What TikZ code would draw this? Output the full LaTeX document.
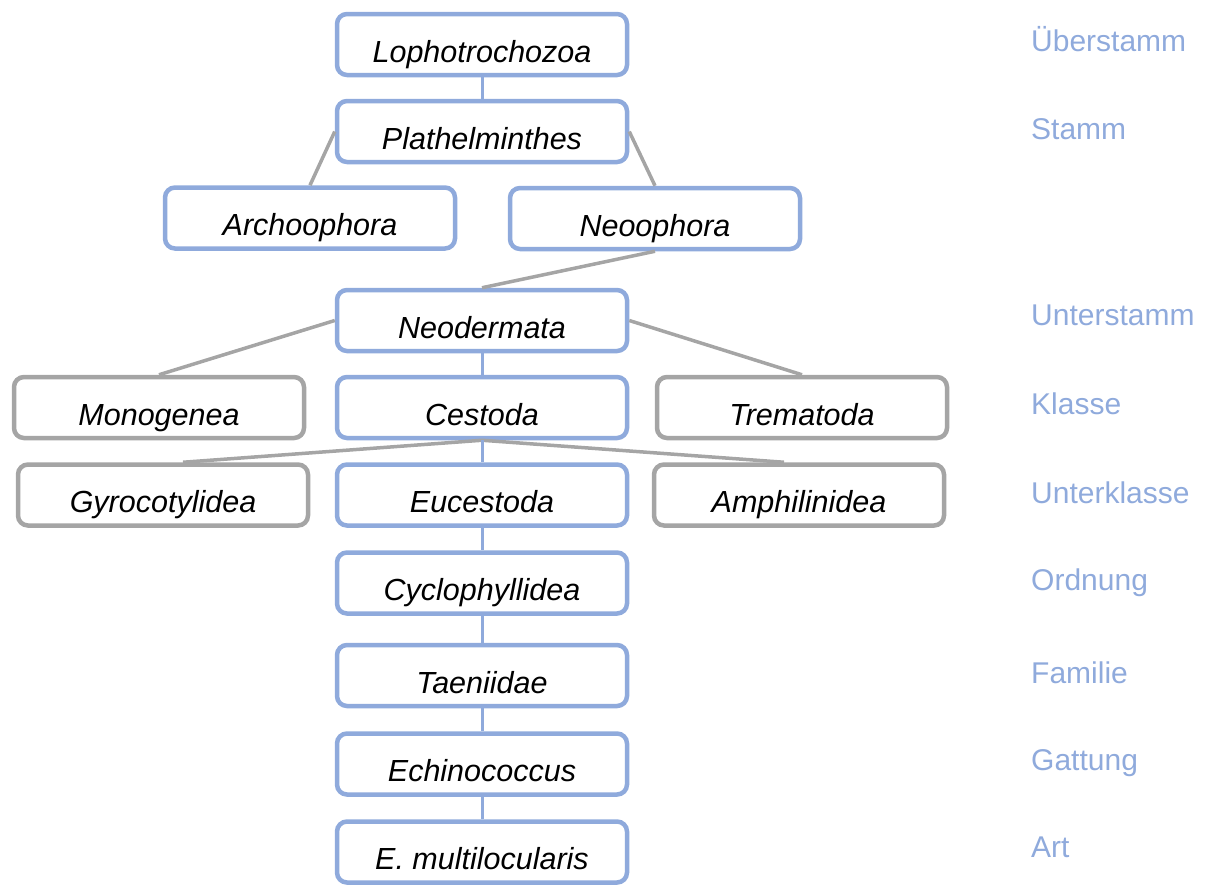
\documentclass[tikz,border=0pt]{standalone}
\usepackage{fontspec}
\setmainfont{Liberation Sans}
\definecolor{bl}{HTML}{8FAADC}
\definecolor{gr}{HTML}{A5A5A5}
\tikzset{
 box/.style={draw=bl, line width=4.5pt, rounded corners=10pt, fill=white, minimum width=290pt, minimum height=61pt, inner sep=0pt, text height=35pt, text depth=0pt, font=\fontsize{30.5}{36}\selectfont\itshape},
 gbox/.style={box, draw=gr},
 lvl/.style={anchor=base west, text=bl, font=\fontsize{30}{36}\selectfont, inner sep=0pt},
 blink/.style={draw=bl, line width=3pt},
 glink/.style={draw=gr, line width=3.5pt},
}
\begin{document}
\begin{tikzpicture}[x=1pt,y=-1pt]
\useasboundingbox (0,0) rectangle (1208,884);
\node[box] (lopho) at (482,44.5) {Lophotrochozoa};
\node[box] (plath) at (482,131.5) {Plathelminthes};
\node[box] (arch) at (310,218) {Archoophora};
\node[box] (neoo) at (655,218.5) {Neoophora};
\node[box] (neod) at (482,320.5) {Neodermata};
\node[gbox] (mono) at (159,407.5) {Monogenea};
\node[box] (cest) at (482,407.5) {Cestoda};
\node[gbox] (trem) at (802,407.5) {Trematoda};
\node[gbox] (gyro) at (163,495) {Gyrocotylidea};
\node[box] (euce) at (482,495) {Eucestoda};
\node[gbox] (amph) at (799,495) {Amphilinidea};
\node[box] (cycl) at (482,583) {Cyclophyllidea};
\node[box] (taen) at (482,675.5) {Taeniidae};
\node[box] (echi) at (482,764) {Echinococcus};
\node[box] (emul) at (482,852) {E. multilocularis};

\draw[blink] (lopho.south) -- (plath.north);
\draw[glink] (plath.west) -- (arch.north);
\draw[glink] (plath.east) -- (neoo.north);
\draw[glink] (neoo.south) -- (neod.north);
\draw[glink] (neod.west) -- (mono.north);
\draw[glink] (neod.east) -- (trem.north);
\draw[blink] (neod.south) -- (cest.north);
\draw[glink] (cest.south) -- ([xshift=20pt]gyro.north);
\draw[glink] (cest.south) -- ([xshift=-15pt]amph.north);
\draw[blink] (cest.south) -- (euce.north);
\draw[blink] (euce.south) -- (cycl.north);
\draw[blink] (cycl.south) -- (taen.north);
\draw[blink] (taen.south) -- (echi.north);
\draw[blink] (echi.south) -- (emul.north);

\node[lvl] (l1) at (1031,51) {Überstamm};
\node[lvl] (l2) at (1031,139) {Stamm};
\node[lvl] (l3) at (1031,325) {Unterstamm};
\node[lvl] (l4) at (1031,414) {Klasse};
\node[lvl] (l5) at (1031,503) {Unterklasse};
\node[lvl] (l6) at (1031,590) {Ordnung};
\node[lvl] (l7) at (1031,683) {Familie};
\node[lvl] (l8) at (1031,770) {Gattung};
\node[lvl] (l9) at (1031,857) {Art};
\end{tikzpicture}
\end{document}
